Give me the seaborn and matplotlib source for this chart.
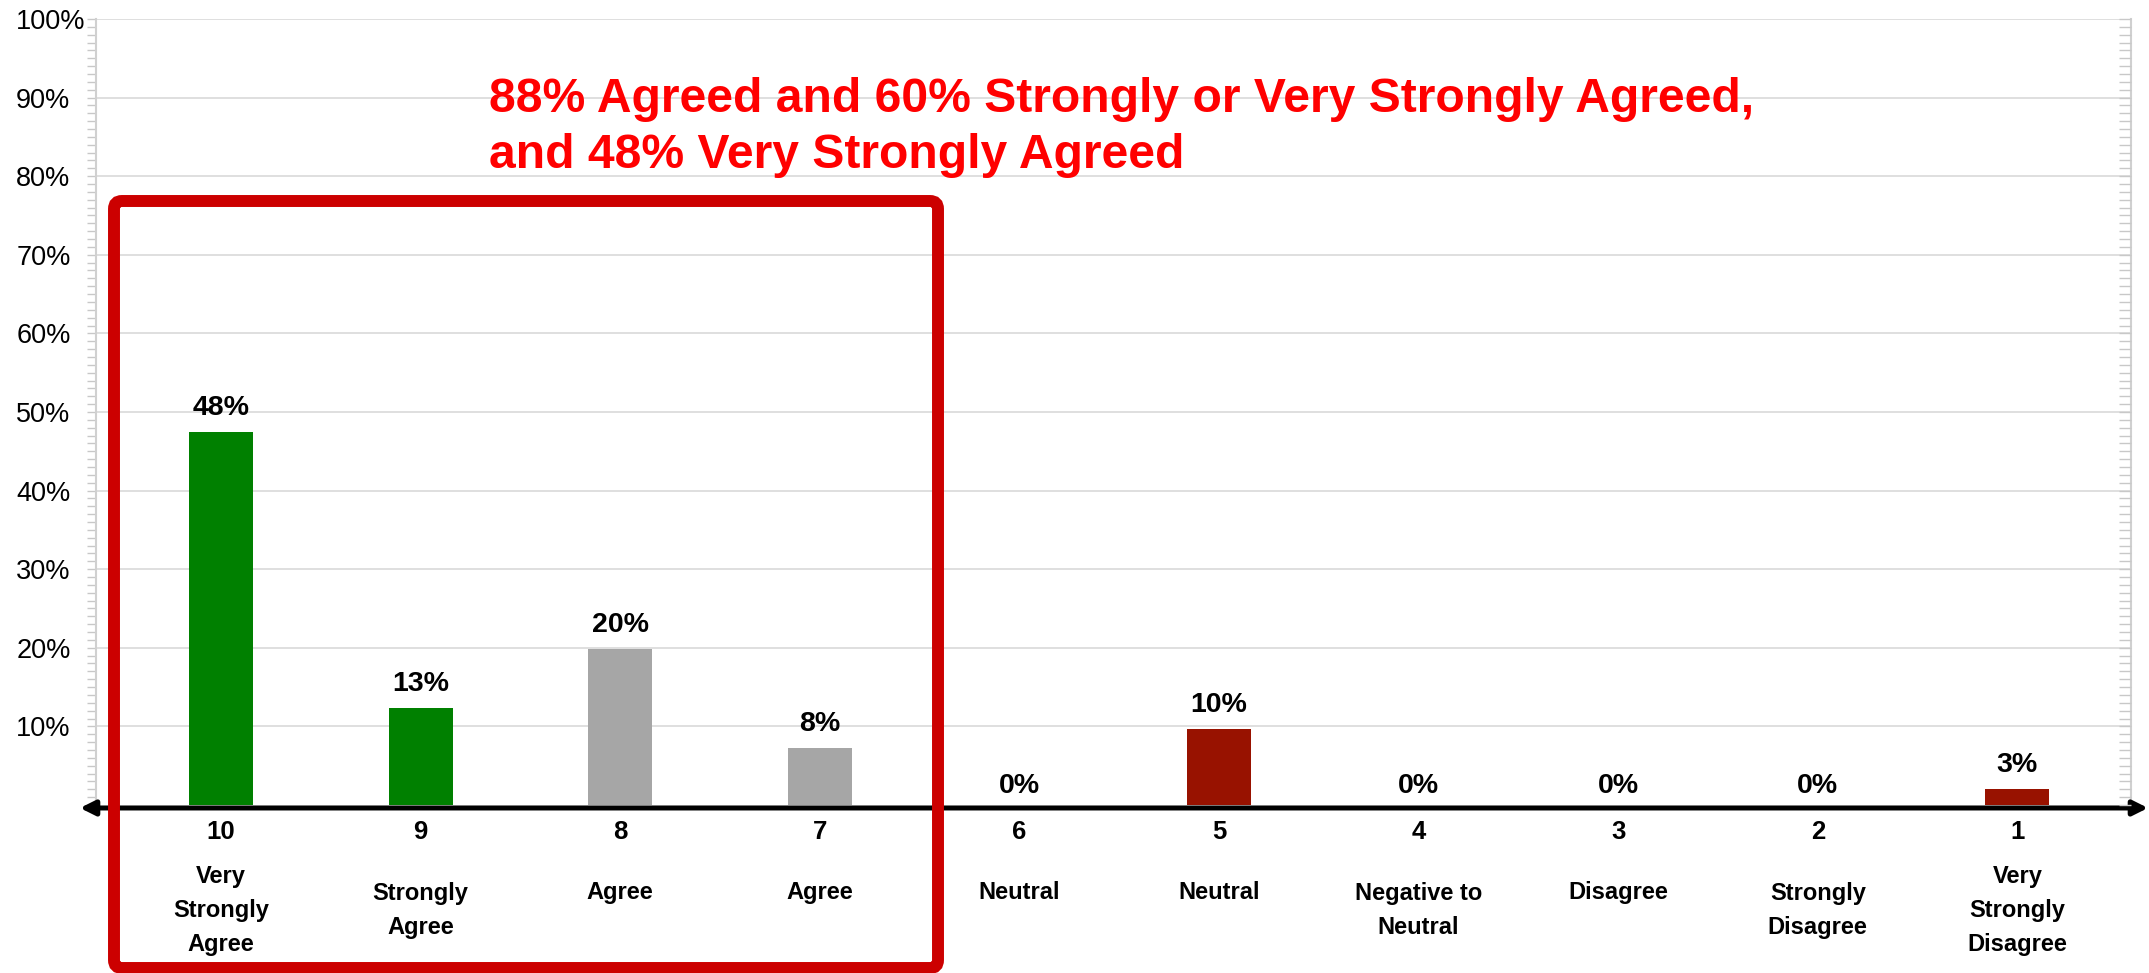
import matplotlib
matplotlib.use("Agg")
import matplotlib.pyplot as plt
from matplotlib.patches import FancyBboxPatch
from matplotlib.ticker import MultipleLocator, FixedLocator
import seaborn as sns

# --- data ---
categories = ["10", "9", "8", "7", "6", "5", "4", "3", "2", "1"]
descriptions = ["Very\nStrongly\nAgree", "Strongly\nAgree", "Agree", "Agree",
                "Neutral", "Neutral", "Negative to\nNeutral", "Disagree",
                "Strongly\nDisagree", "Very\nStrongly\nDisagree"]
values = [47.5, 12.3, 19.8, 7.2, 0.0, 9.7, 0.0, 0.0, 0.0, 2.0]
value_labels = ["48%", "13%", "20%", "8%", "0%", "10%", "0%", "0%", "0%", "3%"]
bar_colors = ["#008000", "#008000", "#A6A6A6", "#A6A6A6", "#A6A6A6",
              "#981200", "#981200", "#981200", "#981200", "#981200"]
y_ticks = [10, 20, 30, 40, 50, 60, 70, 80, 90, 100]
headline = "88% Agreed and 60% Strongly or Very Strongly Agreed,\nand 48% Very Strongly Agreed"

sns.set_style("white")
plt.rcParams['font.family'] = ['Liberation Sans', 'DejaVu Sans']
plt.rcParams['text.color'] = 'black'
plt.rcParams['xtick.color'] = 'black'
plt.rcParams['ytick.color'] = 'black'

fig = plt.figure(figsize=(21.49, 9.73), dpi=100)
ax = fig.add_axes([0.0447, 0.1727, 0.947, 0.8078])

sns.barplot(x=categories, y=values, hue=categories, order=categories,
            palette=dict(zip(categories, bar_colors)), width=0.32,
            saturation=1, linewidth=0, legend=False, ax=ax, zorder=3)

ax.set_xlim(-0.626, 9.57)
ax.set_ylim(0, 100)
ax.set_xlabel("")
ax.set_ylabel("")

# y axis: left aligned percent labels, light grid, ruler-like minor ticks
ax.yaxis.set_major_locator(FixedLocator(y_ticks))
ax.yaxis.set_minor_locator(MultipleLocator(1))
ax.set_yticklabels([f"{t}%" for t in y_ticks], fontsize=19.5)
for lbl in ax.get_yticklabels():
    lbl.set_ha("left")
ax.tick_params(axis="y", which="both", left=True, direction="out",
               length=6.5, width=1, color="#C8C8C8", labelcolor="black", pad=51)
ax.grid(axis="y", color="#D9D9D9", linewidth=1.2, zorder=0)
ax.set_axisbelow(True)

for side in ["top", "bottom"]:
    ax.spines[side].set_visible(False)
ax.spines["left"].set_color("#D0D0D0")
ax.spines["left"].set_linewidth(1.5)
ax.spines["right"].set_color("#D0D0D0")
ax.spines["right"].set_linewidth(1.5)

# right side ticks point inward
ax2 = ax.twinx()
ax2.set_ylim(0, 100)
ax2.yaxis.set_major_locator(MultipleLocator(10))
ax2.yaxis.set_minor_locator(MultipleLocator(1))
ax2.tick_params(axis="y", which="both", right=True, direction="in",
                length=8.5, width=1, color="#C8C8C8", labelright=False)
for side in ["top", "bottom", "left", "right"]:
    ax2.spines[side].set_visible(False)

# x axis: bold scale numbers plus descriptions underneath
ax.set_xticks(range(len(categories)))
ax.set_xticklabels(categories, fontsize=18.5, fontweight="bold")
ax.tick_params(axis="x", length=0, pad=11, labelcolor="black")

for i, desc in enumerate(descriptions):
    y = -0.111 if desc.count("\n") == 0 else -0.134
    ax.text(i, y, desc, transform=ax.get_xaxis_transform(), ha="center",
            va="center", fontsize=17, fontweight="bold", linespacing=1.6,
            multialignment="center", color="black")

# value labels above bars
for i, (v, lab) in enumerate(zip(values, value_labels)):
    off = 8 if v > 0 else 4
    ax.annotate(lab, (i, v), xytext=(0, off), textcoords="offset points",
                ha="center", va="bottom", fontsize=20.5, fontweight="bold",
                color="black")

# double headed x axis arrow
ax.annotate("", xy=(2148 / 2149, 0.1696), xytext=(80 / 2149, 0.1696),
            xycoords="figure fraction", textcoords="figure fraction",
            arrowprops=dict(arrowstyle="<|-|>", color="black", lw=3.6,
                            mutation_scale=22, shrinkA=0, shrinkB=0),
            annotation_clip=False, zorder=6)

# headline (baseline of the last line)
fig.text(489 / 2149, (973 - 168) / 973, headline, color="#FF0000",
         fontsize=34.6, fontweight="bold", ha="left", va="baseline",
         linespacing=1.32)

# red box around the agree group
box = FancyBboxPatch((1.14, 0.05), 8.24, 7.67,
                     boxstyle="round,pad=0,rounding_size=0.08",
                     transform=fig.dpi_scale_trans, fill=False,
                     edgecolor="#CC0000", linewidth=8.6, zorder=10)
fig.patches.append(box)

fig.savefig("out.png", dpi=100)
